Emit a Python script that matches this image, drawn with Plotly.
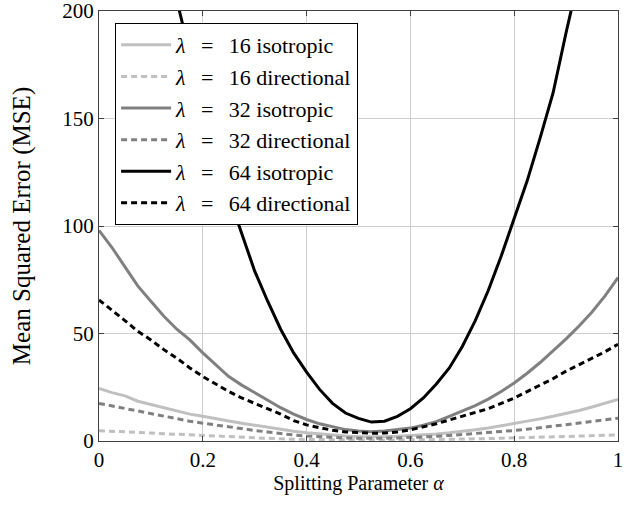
import plotly.graph_objects as go

alpha = [i / 40 for i in range(41)]

mse_64_iso = [390, 355, 322, 290, 260, 232, 205, 180, 157, 134, 114, 96, 79, 65, 52, 41, 32, 24, 17.5, 13,
              10.5, 8.8, 9.2, 11.5, 15, 20, 26.5, 34, 44, 56, 70, 86, 103, 121, 141, 162, 190, 215, 240, 266, 295]
mse_32_iso = [98, 90, 81, 72, 65, 58, 52, 47, 41, 35.5, 30, 26, 22.5, 19, 15.5, 12.5, 10, 8, 6.5, 5.3,
              4.6, 4.3, 4.6, 5.2, 6, 7.3, 9, 11.5, 14, 16.5, 19.5, 23, 27, 31.5, 36.5, 42, 47.5, 53.5, 60, 67.5, 76]
mse_64_dir = [65.6, 61, 56, 51, 47, 42.5, 38.5, 34, 30, 26.5, 23, 20, 17.5, 15, 12.5, 9.5, 7.5, 6.2, 5, 4.2,
              3.8, 3.6, 3.7, 4.2, 5.2, 6.5, 8, 9.8, 11.5, 13.2, 15, 17.5, 20, 23, 26, 29, 32.5, 35.5, 38.5, 41.5, 45]
mse_16_iso = [24.5, 22.5, 21, 18.5, 17, 15.5, 14, 12.5, 11.5, 10.3, 9.3, 8.3, 7.3, 6.3, 5.3, 4.5, 3.8, 3.2, 2.7, 2.3,
              2, 1.9, 2, 2.2, 2.5, 2.9, 3.3, 3.8, 4.4, 5.2, 6, 7, 8.2, 9.2, 10.3, 11.5, 12.8, 14.2, 15.8, 17.5, 19.3]
mse_32_dir = [17.5, 16.3, 15, 13.8, 12.8, 11.7, 10.4, 9.2, 8.3, 7.4, 6.5, 5.7, 4.9, 4.2, 3.4, 2.8, 2.3, 1.9, 1.6, 1.4,
              1.3, 1.2, 1.3, 1.4, 1.6, 1.9, 2.2, 2.6, 3, 3.5, 3.9, 4.4, 4.9, 5.5, 6.1, 6.7, 7.6, 8.4, 9.1, 9.8, 10.6]
mse_16_dir = [4.8, 4.6, 4.3, 4, 3.7, 3.4, 3.1, 2.8, 2.5, 2.2, 1.9, 1.7, 1.4, 1.2, 1, 0.8, 0.7, 0.6, 0.5, 0.45,
              0.4, 0.4, 0.4, 0.45, 0.5, 0.6, 0.7, 0.8, 0.9, 1, 1.1, 1.3, 1.4, 1.6, 1.8, 1.9, 2.1, 2.3, 2.5, 2.6, 2.8]

x_ticks = [0, 0.2, 0.4, 0.6, 0.8, 1]
x_tick_labels = ["0", "0.2", "0.4", "0.6", "0.8", "1"]
y_ticks = [0, 50, 100, 150, 200]

EQ = "\u2002\u2009=\u2002\u2009"
series = [
    (f"<i>λ</i>{EQ}16 isotropic", mse_16_iso, "#c0c0c0", "solid"),
    (f"<i>λ</i>{EQ}16 directional", mse_16_dir, "#c0c0c0", "6px,4px"),
    (f"<i>λ</i>{EQ}32 isotropic", mse_32_iso, "#808080", "solid"),
    (f"<i>λ</i>{EQ}32 directional", mse_32_dir, "#808080", "6px,4px"),
    (f"<i>λ</i>{EQ}64 isotropic", mse_64_iso, "#000000", "solid"),
    (f"<i>λ</i>{EQ}64 directional", mse_64_dir, "#000000", "6px,4px"),
]

fig = go.Figure()
for i, (name, ys, color, dash) in enumerate(series):
    fig.add_trace(go.Scatter(x=alpha, y=ys, mode="lines", name=name,
                             legendgroup=f"g{i}",
                             line=dict(color=color, width=3, dash=dash)))

FF = "Liberation Serif, Times New Roman, serif"
fig.update_layout(
    width=637, height=508,
    margin=dict(l=99, r=19, t=11, b=67, autoexpand=False),
    paper_bgcolor="white", plot_bgcolor="white",
    font=dict(family=FF, size=20, color="black"),
    showlegend=True,
    legend=dict(x=0.031, y=0.972, xanchor="left", yanchor="top",
                bgcolor="white", bordercolor="black", borderwidth=1,
                font=dict(family=FF, size=22, color="black"),
                tracegroupgap=0, itemwidth=50),
    xaxis=dict(range=[0, 1], tickvals=x_ticks, ticktext=x_tick_labels,
               showgrid=True, gridcolor="#cfcfcf", gridwidth=1,
               showline=True, linecolor="#404040", linewidth=1, mirror="ticks",
               ticks="inside", ticklen=5, tickcolor="#404040",
               zeroline=False, automargin=False, ticklabeloverflow="allow",
               tickfont=dict(family=FF, size=21, color="black"),
               title=dict(text="Splitting Parameter <i>α</i>",
                          font=dict(family=FF, size=20, color="black"), standoff=2)),
    yaxis=dict(range=[0, 200], tickvals=y_ticks,
               showgrid=True, gridcolor="#cfcfcf", gridwidth=1,
               showline=True, linecolor="#404040", linewidth=1, mirror="ticks",
               ticks="inside", ticklen=5, tickcolor="#404040",
               zeroline=False, automargin=False, ticklabeloverflow="allow",
               tickfont=dict(family=FF, size=21, color="black"),
               title=dict(text="Mean Squared Error (MSE)",
                          font=dict(family=FF, size=25, color="black"), standoff=24)),
)

fig.write_html("out.html", config={"displayModeBar": False},
               post_script="document.body.style.margin='0';")
